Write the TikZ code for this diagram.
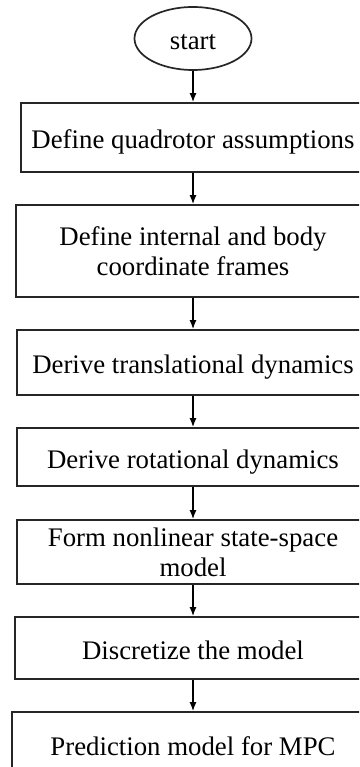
\documentclass[tikz,border=0pt]{standalone}
\usepackage{fontspec}
\setmainfont{Liberation Serif}
\usetikzlibrary{arrows.meta,shapes.geometric}
\begin{document}
\begin{tikzpicture}[x=1pt,y=-1pt,
  box/.style={draw=black!85, line width=1.7pt, rectangle, inner sep=0pt,
    font=\fontsize{26.8}{30}\selectfont, align=center},
  one/.style={text height=22pt, text depth=0pt},
  conn/.style={line width=1.5pt, -{Latex[length=9pt,width=7pt]}}]
\useasboundingbox (0,0) rectangle (359,767);
\clip (0,0) rectangle (359,767);
\fill[white] (0,0) rectangle (359,767);
\node[box, one, ellipse, minimum width=117pt, minimum height=63pt] (s) at (193,38.5) {start};
\node[box, one, minimum width=344pt, minimum height=69pt] (b1) at (193,137.5) {Define quadrotor assumptions};
\node[box, minimum width=354pt, minimum height=92pt] (b2) at (193,251) {Define internal and body\\coordinate frames};
\node[box, one, minimum width=352pt, minimum height=65pt] (b3) at (193,362.5) {Derive translational dynamics};
\node[box, one, minimum width=352pt, minimum height=58pt] (b4) at (193,457) {Derive rotational dynamics};
\node[box, minimum width=352pt, minimum height=64pt] (b5) at (193,552) {Form nonlinear state-space\\model};
\node[box, one, minimum width=356pt, minimum height=62pt] (b6) at (193,648) {Discretize the model};
\node[box, one, minimum width=362pt, minimum height=64pt] (b7) at (193,744) {Prediction model for MPC};
\draw[conn] (s) -- (b1);
\draw[conn] (b1) -- (b2);
\draw[conn] (b2) -- (b3);
\draw[conn] (b3) -- (b4);
\draw[conn] (b4) -- (b5);
\draw[conn] (b5) -- (b6);
\draw[conn] (b6) -- (b7);
\end{tikzpicture}
\end{document}
